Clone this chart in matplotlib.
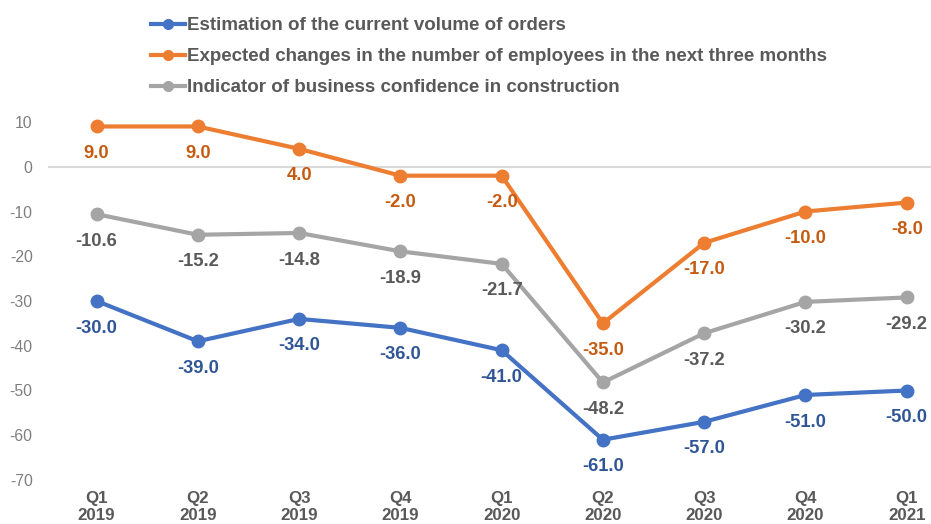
import matplotlib
matplotlib.use("Agg")
import matplotlib.pyplot as plt

categories = ["Q1\n2019", "Q2\n2019", "Q3\n2019", "Q4\n2019", "Q1\n2020",
              "Q2\n2020", "Q3\n2020", "Q4\n2020", "Q1\n2021"]
orders = [-30.0, -39.0, -34.0, -36.0, -41.0, -61.0, -57.0, -51.0, -50.0]
employees = [9.0, 9.0, 4.0, -2.0, -2.0, -35.0, -17.0, -10.0, -8.0]
confidence = [-10.6, -15.2, -14.8, -18.9, -21.7, -48.2, -37.2, -30.2, -29.2]
series_names = ["Estimation of the current volume of orders",
                "Expected changes in the number of employees in the next three months",
                "Indicator of business confidence in construction"]
y_ticks = [10, 0, -10, -20, -30, -40, -50, -60, -70]

plt.rcParams['font.family'] = ['Liberation Sans', 'DejaVu Sans']

fig = plt.figure(figsize=(9.31, 5.24), dpi=100)
ax = fig.add_axes([48/931, 1-480/524, 1-48/931, (480-122)/524])

x = list(range(len(categories)))
ax.axhline(0, color="#D9D9D9", lw=1.5, zorder=1)

specs = [
    (orders, "#4472C4", "#2F5597"),
    (employees, "#ED7D31", "#C55A11"),
    (confidence, "#A5A5A5", "#595959"),
]
handles = []
for (vals, col, lcol), name in zip(specs, series_names):
    h, = ax.plot(x, vals, color=col, lw=3, marker="o", markersize=9,
                 label=name, zorder=3, clip_on=False)
    handles.append(h)
    for xi, v in zip(x, vals):
        ax.annotate(f"{v:.1f}", (xi, v), xytext=(0, -19.5), textcoords="offset points",
                    ha="center", va="center", fontsize=13.2, fontweight="bold",
                    color=lcol, annotation_clip=False)

ax.set_xlim(-0.48, 8.24)
ax.set_ylim(-70, 10)
ax.set_yticks(y_ticks)
ax.set_yticklabels([str(t) for t in y_ticks], color="#7F7F7F", fontsize=11.3)
ax.set_xticks(x)
ax.set_xticklabels(categories, fontsize=12.2, fontweight="bold", color="#595959",
                   linespacing=1.12)
ax.tick_params(axis="y", length=0, pad=11)
ax.tick_params(axis="x", length=0, pad=8)
for s in ax.spines.values():
    s.set_visible(False)

leg = fig.legend(handles=handles, labels=series_names, loc="upper left",
                 bbox_to_anchor=(151/931, 1-17/524), frameon=False,
                 fontsize=13.5, handlelength=1.8, handletextpad=0.1,
                 labelspacing=0.74, borderpad=0, borderaxespad=0)
for t in leg.get_texts():
    t.set_fontweight("bold")
    t.set_color("#595959")
for lh in leg.legend_handles:
    lh.set_markersize(7)

fig.savefig("out.png", dpi=100)
